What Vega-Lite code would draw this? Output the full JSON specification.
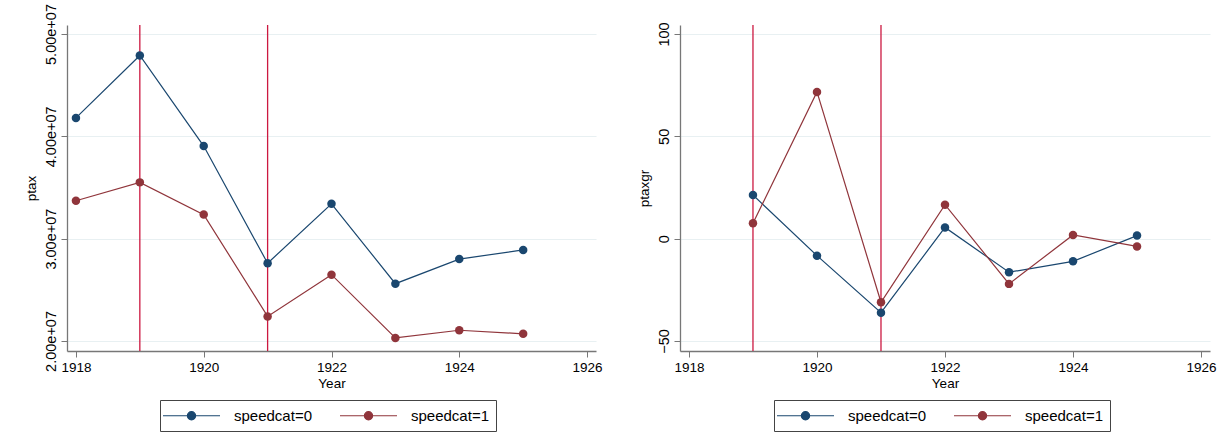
{
  "$schema": "https://vega.github.io/schema/vega-lite/v6.json",
  "background": "white",
  "padding": {"left": 23, "top": 3, "right": 5, "bottom": 0},
  "datasets": {
    "tax": [
      {"year": 1918, "speedcat": "0", "ptax": 41800000, "ptaxgr": null},
      {"year": 1919, "speedcat": "0", "ptax": 47900000, "ptaxgr": 21.3},
      {"year": 1920, "speedcat": "0", "ptax": 39050000, "ptaxgr": -8.3},
      {"year": 1921, "speedcat": "0", "ptax": 27600000, "ptaxgr": -36.2},
      {"year": 1922, "speedcat": "0", "ptax": 33400000, "ptaxgr": 5.5},
      {"year": 1923, "speedcat": "0", "ptax": 25600000, "ptaxgr": -16.4},
      {"year": 1924, "speedcat": "0", "ptax": 28000000, "ptaxgr": -11.1},
      {"year": 1925, "speedcat": "0", "ptax": 28900000, "ptaxgr": 1.5},
      {"year": 1918, "speedcat": "1", "ptax": 33700000, "ptaxgr": null},
      {"year": 1919, "speedcat": "1", "ptax": 35500000, "ptaxgr": 7.5},
      {"year": 1920, "speedcat": "1", "ptax": 32350000, "ptaxgr": 71.7},
      {"year": 1921, "speedcat": "1", "ptax": 22400000, "ptaxgr": -31.1},
      {"year": 1922, "speedcat": "1", "ptax": 26480000, "ptaxgr": 16.6},
      {"year": 1923, "speedcat": "1", "ptax": 20300000, "ptaxgr": -22.1},
      {"year": 1924, "speedcat": "1", "ptax": 21050000, "ptaxgr": 1.8},
      {"year": 1925, "speedcat": "1", "ptax": 20700000, "ptaxgr": -3.8}
    ],
    "events": [{"year": 1919}, {"year": 1921}]
  },
  "spacing": 34,
  "resolve": {"scale": {"color": "independent"}},
  "hconcat": [
    {
      "width": 529,
      "height": 326,
      "layer": [
        {
          "data": {"name": "events"},
          "mark": {"type": "rule", "color": "#cc1840", "strokeWidth": 1.3},
          "encoding": {
            "x": {"field": "year", "type": "quantitative", "scale": {"domain": [1917.86, 1926.14], "nice": false, "zero": false}}
          }
        },
        {
          "data": {"name": "tax"},
          "mark": {"type": "line", "strokeWidth": 1.2},
          "encoding": {
            "x": {"field": "year", "type": "quantitative", "scale": {"domain": [1917.86, 1926.14], "nice": false, "zero": false},
                  "axis": {"values": [1918, 1920, 1922, 1924, 1926], "format": "d", "title": "Year", "grid": false}},
            "y": {"field": "ptax", "type": "quantitative", "scale": {"domain": [19020000, 50880000], "nice": false, "zero": false},
                  "axis": {"values": [20000000, 30000000, 40000000, 50000000], "labelExpr": "replace(format(datum.value, '.2e'), 'e+', 'e+0')", "title": "ptax", "labelAngle": -90, "labelAlign": "center", "labelBaseline": "bottom"}},
            "color": {"field": "speedcat", "type": "nominal", "scale": {"domain": ["0", "1"], "range": ["#1a476f", "#90353b"]},
                      "legend": {"orient": "none", "legendX": 93, "legendY": 375, "direction": "horizontal", "title": null, "labelExpr": "'speedcat=' + datum.label"}}
          }
        },
        {
          "data": {"name": "tax"},
          "mark": {"type": "point", "filled": true, "size": 72, "opacity": 1},
          "encoding": {
            "x": {"field": "year", "type": "quantitative"},
            "y": {"field": "ptax", "type": "quantitative"},
            "color": {"field": "speedcat", "type": "nominal"}
          }
        }
      ]
    },
    {
      "width": 530,
      "height": 326,
      "layer": [
        {
          "data": {"name": "events"},
          "mark": {"type": "rule", "color": "#cc1840", "strokeWidth": 1.3},
          "encoding": {
            "x": {"field": "year", "type": "quantitative", "scale": {"domain": [1917.86, 1926.14], "nice": false, "zero": false}}
          }
        },
        {
          "data": {"name": "tax"},
          "transform": [{"filter": "isValid(datum.ptaxgr)"}],
          "mark": {"type": "line", "strokeWidth": 1.2},
          "encoding": {
            "x": {"field": "year", "type": "quantitative", "scale": {"domain": [1917.86, 1926.14], "nice": false, "zero": false},
                  "axis": {"values": [1918, 1920, 1922, 1924, 1926], "format": "d", "title": "Year", "grid": false}},
            "y": {"field": "ptaxgr", "type": "quantitative", "scale": {"domain": [-54.9, 104.4], "nice": false, "zero": false},
                  "axis": {"values": [-50, 0, 50, 100], "title": "ptaxgr", "labelAngle": -90, "labelAlign": "center", "labelBaseline": "bottom"}},
            "color": {"field": "speedcat", "type": "nominal", "scale": {"domain": ["0", "1"], "range": ["#1a476f", "#90353b"]},
                      "legend": {"orient": "none", "legendX": 94, "legendY": 375, "direction": "horizontal", "title": null, "labelExpr": "'speedcat=' + datum.label"}}
          }
        },
        {
          "data": {"name": "tax"},
          "transform": [{"filter": "isValid(datum.ptaxgr)"}],
          "mark": {"type": "point", "filled": true, "size": 72, "opacity": 1},
          "encoding": {
            "x": {"field": "year", "type": "quantitative"},
            "y": {"field": "ptaxgr", "type": "quantitative"},
            "color": {"field": "speedcat", "type": "nominal"}
          }
        }
      ]
    }
  ],
  "config": {
    "font": "Liberation Sans",
    "view": {"stroke": null},
    "axis": {
      "labelFont": "Liberation Sans",
      "titleFont": "Liberation Sans",
      "labelFontSize": 13.5,
      "titleFontSize": 13.5,
      "titleFontWeight": "normal",
      "labelColor": "#000",
      "titleColor": "#000",
      "domainColor": "#777",
      "domainWidth": 1.3,
      "tickColor": "#777",
      "tickSize": 6,
      "labelPadding": 3,
      "titlePadding": 5,
      "gridColor": "#e8f0f2",
      "gridWidth": 1.2
    },
    "axisY": {"labelFontSize": 14.5},
    "axisX": {"titlePadding": 3},
    "legend": {
      "labelFont": "Liberation Sans",
      "labelFontSize": 15,
      "labelColor": "#000",
      "symbolType": "M-3.8,0H3.8M-0.55,0a0.55,0.55 0 1,0 1.1,0a0.55,0.55 0 1,0 -1.1,0",
      "symbolSize": 225,
      "symbolOffset": 16,
      "symbolStrokeWidth": 1.2,
      "labelOffset": 34,
      "columnPadding": 25,
      "padding": 7,
      "strokeColor": "#444",
      "strokeWidth": 1
    }
  }
}
